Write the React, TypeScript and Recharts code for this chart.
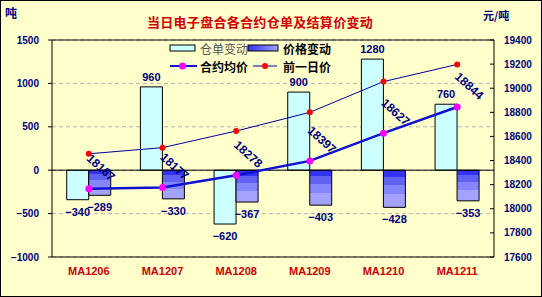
import React from 'react';
import {
  ComposedChart,
  Bar,
  Line,
  XAxis,
  YAxis,
  CartesianGrid,
  ReferenceLine,
  LabelList,
} from 'recharts';

const categories = ['MA1206', 'MA1207', 'MA1208', 'MA1209', 'MA1210', 'MA1211'];
const warrantChange = [-340, 960, -620, 900, 1280, 760];
const priceChange = [-289, -330, -367, -403, -428, -353];
const avgPrice = [18167, 18177, 18278, 18397, 18627, 18844];
const prevPrice = [18456, 18507, 18645, 18800, 19055, 19197];
const leftTicks = [-1000, -500, 0, 500, 1000, 1500];
const rightTicks = [17600, 17800, 18000, 18200, 18400, 18600, 18800, 19000, 19200, 19400];

const title = '当日电子盘合各合约仓单及结算价变动';
const leftUnit = '吨';
const rightUnit = '元/吨';
const seriesNames = ['仓单变动', '价格变动', '合约均价', '前一日价'];

const data = categories.map((c, i) => ({
  name: c,
  warrant: warrantChange[i],
  price: priceChange[i],
  avg: avgPrice[i],
  prev: prevPrice[i],
}));

const NAVY = '#000080';
const BG = '#FFFFCC';
const FONT = '"Liberation Sans", Arial, sans-serif';
const CJK = '"Noto Sans CJK SC", sans-serif';

const BarLabel = (props: any) => {
  const { x, y, width, height, value } = props;
  const top = Math.min(y, y + height);
  const bottom = Math.max(y, y + height);
  const ty = value >= 0 ? top - 10 : bottom + 12;
  return (
    <text
      x={x + width / 2}
      y={ty}
      textAnchor="middle"
      dominantBaseline="central"
      fill={NAVY}
      fontWeight="bold"
      fontSize={11}
      fontFamily={FONT}
    >
      {value < 0 ? `\u2212${Math.abs(value)}` : value}
    </text>
  );
};

const AvgLabel = (props: any) => {
  const { x, y, value } = props;
  const cx = x + 12;
  const cy = y - 21;
  return (
    <text
      x={cx}
      y={cy}
      transform={`rotate(42 ${cx} ${cy})`}
      textAnchor="middle"
      dominantBaseline="central"
      fill={NAVY}
      fontWeight="bold"
      fontSize={12}
      fontFamily={FONT}
    >
      {value}
    </text>
  );
};

const XTick = (props: any) => {
  const { x, y, payload } = props;
  return (
    <text
      x={x}
      y={y + 14}
      textAnchor="middle"
      dominantBaseline="central"
      fill="#D00000"
      fontWeight="bold"
      fontSize={11}
      fontFamily={FONT}
    >
      {payload.value}
    </text>
  );
};

const LegendBox = () => (
  <svg
    width={180}
    height={40}
    style={{ position: 'absolute', left: 165, top: 38, overflow: 'visible' }}
  >
    <defs>
      <linearGradient id="legendGrad" x1="0" y1="0" x2="1" y2="0">
        <stop offset="0" stopColor="#3333FF" />
        <stop offset="1" stopColor="#A0A0FF" />
      </linearGradient>
    </defs>
    <rect x={5} y={7} width={25} height={6} fill="#CCFFFF" stroke="#000" strokeWidth={1} />
    <text x={35} y={10} dominantBaseline="central" fontSize={12} fontFamily={CJK} fill="#555">
      {seriesNames[0]}
    </text>
    <rect x={83} y={7} width={30} height={6} fill="url(#legendGrad)" stroke="#000" strokeWidth={1} />
    <text x={118} y={10} dominantBaseline="central" fontSize={12} fontWeight="bold" fontFamily={CJK} fill="#000">
      {seriesNames[1]}
    </text>
    <line x1={5} y1={28} x2={32} y2={28} stroke="#1010D0" strokeWidth={2} />
    <circle cx={17.5} cy={28} r={3.5} fill="#FF00FF" />
    <text x={35} y={28} dominantBaseline="central" fontSize={12} fontWeight="bold" fontFamily={CJK} fill="#000">
      {seriesNames[2]}
    </text>
    <line x1={88} y1={28} x2={112} y2={28} stroke="#0000A0" strokeWidth={1} />
    <circle cx={100} cy={28} r={3} fill="#FF0000" />
    <text x={118} y={28} dominantBaseline="central" fontSize={12} fontWeight="bold" fontFamily={CJK} fill="#000">
      {seriesNames[3]}
    </text>
  </svg>
);

export default function App() {
  return (
    <div
      style={{
        position: 'absolute',
        left: 0,
        top: 0,
        width: 542,
        height: 297,
        background: BG,
        overflow: 'hidden',
      }}
    >
      <ComposedChart
        width={542}
        height={297}
        data={data}
        margin={{ top: 40, right: 0, bottom: 10, left: 0 }}
        barCategoryGap="20%"
        barGap={0}
      >
        <defs>
          <linearGradient id="priceGrad" x1="0" y1="0" x2="0" y2="1">
            <stop offset="0" stopColor="#3333F5" />
            <stop offset="0.17" stopColor="#3333F5" />
            <stop offset="0.17" stopColor="#6262F2" />
            <stop offset="0.4" stopColor="#6262F2" />
            <stop offset="0.4" stopColor="#8585FF" />
            <stop offset="0.65" stopColor="#8585FF" />
            <stop offset="0.65" stopColor="#A3A3FF" />
            <stop offset="1" stopColor="#A3A3FF" />
          </linearGradient>
        </defs>
        <CartesianGrid
          yAxisId="left"
          horizontal
          vertical={false}
          stroke="#B4B4B4"
          strokeDasharray="4 3"
        />
        <XAxis
          dataKey="name"
          axisLine={{ stroke: '#000' }}
          tickLine={false}
          tickSize={0}
          tickMargin={0}
          height={30}
          tick={<XTick />}
          interval={0}
        />
        <YAxis
          yAxisId="left"
          domain={[-1000, 1500]}
          ticks={leftTicks}
          width={52}
          tickSize={4}
          tickMargin={9}
          axisLine={{ stroke: '#000' }}
          tickLine={{ stroke: '#000' }}
          tick={{ fill: NAVY, fontSize: 10, fontWeight: 'bold', fontFamily: FONT }}
          tickFormatter={(v: number) => (v < 0 ? `\u2212${Math.abs(v)}` : `${v}`)}
          allowDataOverflow
        />
        <YAxis
          yAxisId="right"
          orientation="right"
          domain={[17600, 19400]}
          ticks={rightTicks}
          width={48}
          tickSize={-4}
          tickMargin={14}
          axisLine={{ stroke: '#000' }}
          tickLine={{ stroke: '#000' }}
          tick={{ fill: NAVY, fontSize: 10, fontWeight: 'bold', fontFamily: FONT }}
          allowDataOverflow
        />
        <ReferenceLine yAxisId="left" y={1500} stroke="#000" />
        <Bar
          yAxisId="left"
          dataKey="warrant"
          fill="#CCFFFF"
          stroke="#000"
          strokeWidth={1}
          isAnimationActive={false}
        >
          <LabelList dataKey="warrant" content={<BarLabel />} />
        </Bar>
        <Bar
          yAxisId="left"
          dataKey="price"
          fill="url(#priceGrad)"
          stroke="#000"
          strokeWidth={1}
          isAnimationActive={false}
        >
          <LabelList dataKey="price" content={<BarLabel />} />
        </Bar>
        <ReferenceLine yAxisId="left" y={0} stroke="#000" />
        <Line
          yAxisId="right"
          dataKey="prev"
          stroke="#0000A0"
          strokeWidth={1}
          dot={{ r: 3, fill: '#FF0000', stroke: 'none' }}
          isAnimationActive={false}
        />
        <Line
          yAxisId="right"
          dataKey="avg"
          stroke="#1010D0"
          strokeWidth={2.5}
          dot={{ r: 3.5, fill: '#FF00FF', stroke: 'none' }}
          isAnimationActive={false}
        >
          <LabelList dataKey="avg" content={<AvgLabel />} />
        </Line>
      </ComposedChart>
      <LegendBox />
      <div
        style={{
          position: 'absolute',
          left: 0,
          top: 12,
          width: 520,
          textAlign: 'center',
          color: '#D40000',
          fontFamily: CJK,
          fontWeight: 'bold',
          fontSize: 13,
          letterSpacing: 0.3,
          lineHeight: '20px',
        }}
      >
        {title}
      </div>
      <div
        style={{
          position: 'absolute',
          left: 5,
          top: 5,
          color: NAVY,
          fontFamily: CJK,
          fontWeight: 'bold',
          fontSize: 12,
          lineHeight: '16px',
        }}
      >
        {leftUnit}
      </div>
      <div
        style={{
          position: 'absolute',
          left: 483,
          top: 7,
          color: NAVY,
          fontFamily: CJK,
          fontWeight: 'bold',
          fontSize: 11,
          lineHeight: '16px',
        }}
      >
        {rightUnit}
      </div>
      <div
        style={{
          position: 'absolute',
          left: 0,
          top: 0,
          width: 542,
          height: 297,
          boxSizing: 'border-box',
          border: '1px solid #000',
          pointerEvents: 'none',
        }}
      />
    </div>
  );
}
